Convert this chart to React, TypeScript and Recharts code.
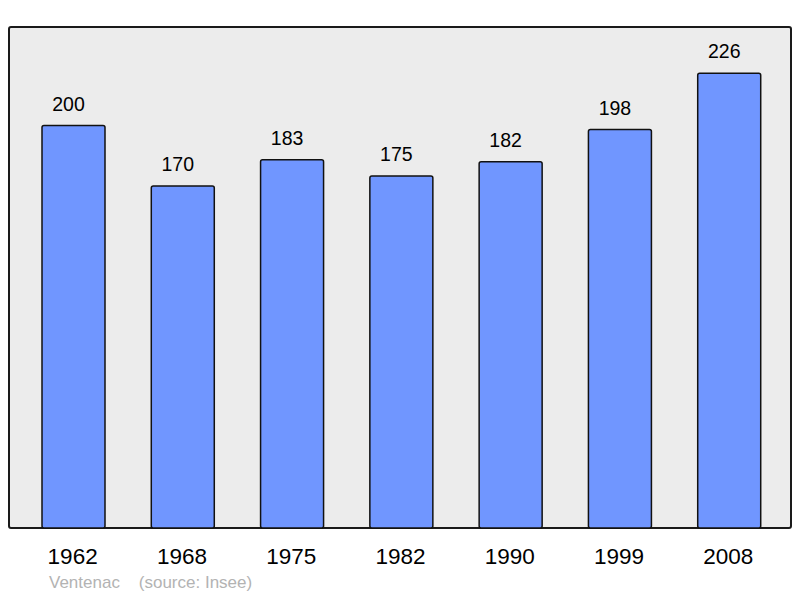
import { BarChart, Bar, XAxis, YAxis, LabelList } from "recharts"

// population by census year
const years = ["1962", "1968", "1975", "1982", "1990", "1999", "2008"]
const population = [200, 170, 183, 175, 182, 198, 226]

const commune = "Ventenac"
const source = "(source: Insee)"

const data = years.map((year, i) => ({ year, population: population[i] }))

const FONT = "'Liberation Sans', Arial, sans-serif"

function YearTick({ x, y, payload }: any) {
    return (
        <text
            x={x - 1}
            y={y + 28}
            textAnchor="middle"
            fontSize={22.5}
            fontFamily={FONT}
            fill="#000"
        >
            {payload.value}
        </text>
    )
}

function ValueLabel({ x, y, width, value }: any) {
    return (
        <text
            x={x + width / 2 - 5}
            y={y - 15}
            textAnchor="middle"
            fontSize={19.5}
            fontFamily={FONT}
            fill="#000"
        >
            {value}
        </text>
    )
}

export default function App() {
    return (
        <div style={{ position: "absolute", left: 0, top: 0, width: 800, height: 598, background: "#fff" }}>
            {/* plot frame */}
            <div
                style={{
                    position: "absolute",
                    left: 8,
                    top: 26,
                    width: 784,
                    height: 503,
                    boxSizing: "border-box",
                    border: "2px solid #1a1a1a",
                    borderRadius: 3,
                    background: "#ececec",
                }}
            />
            <div style={{ position: "absolute", left: 0, top: 0 }}>
                <BarChart
                    width={800}
                    height={598}
                    data={data}
                    margin={{ top: 27, right: 9, left: 9, bottom: 30 }}
                    barSize={63}
                >
                    <XAxis
                        dataKey="year"
                        axisLine={false}
                        tickLine={false}
                        height={40}
                        padding={{ left: 10, right: 7 }}
                        tick={<YearTick />}
                        interval={0}
                    />
                    <YAxis hide domain={[0, 249]} />
                    <Bar
                        dataKey="population"
                        fill="#7096ff"
                        stroke="#111"
                        strokeWidth={1.5}
                        radius={2}
                        isAnimationActive={false}
                    >
                        <LabelList dataKey="population" content={<ValueLabel />} />
                    </Bar>
                </BarChart>
            </div>
            <div
                style={{
                    position: "absolute",
                    left: 49,
                    top: 573,
                    fontFamily: FONT,
                    fontSize: 17,
                    color: "#b3b3b3",
                    whiteSpace: "pre",
                }}
            >
                {commune + "    " + source}
            </div>
        </div>
    )
}
